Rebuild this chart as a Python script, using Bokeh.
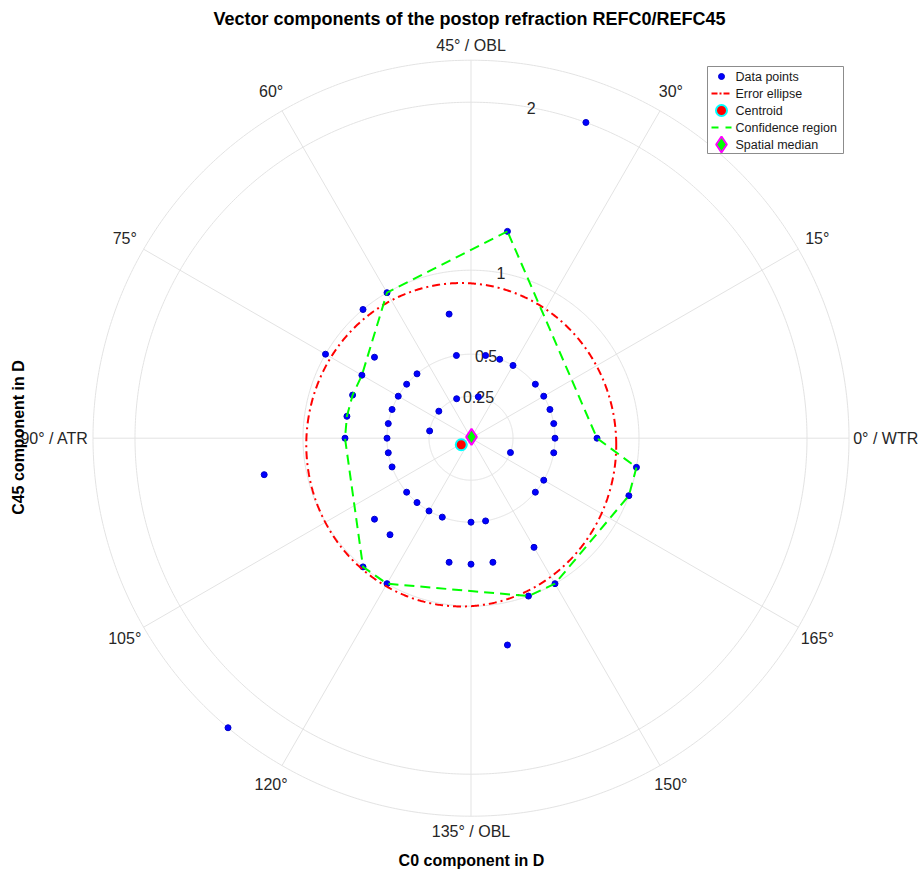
import numpy as np
from bokeh.plotting import figure
from bokeh.core.properties import value
from bokeh.embed import file_html
from bokeh.resources import INLINE

# ---------------- data (cylinder magnitude in D, axis in degrees) ----------------
pt_mag = [2.0, 1.25, 0.75, 1.0, 1.0, 1.0, 0.75, 0.75, 0.75, 0.75, 0.75,
          0.5, 0.5, 0.5, 0.5, 0.5, 0.5, 0.5, 0.5, 0.5, 0.5, 0.5, 0.5, 0.5, 0.5, 0.5,
          0.25, 0.25, 0.25, 0.25,
          0.75, 1.0, 1.0, 1.0, 1.0, 1.25, 1.0, 1.0, 1.25, 2.25,
          0.5, 0.5, 0.5, 0.5, 0.5, 0.5, 0.5, 0.5, 0.5, 0.5, 0.5,
          0.75, 0.75, 0.75, 0.75, 0.75, 0.75,
          0.25]
pt_axis = [35, 40, 50, 60, 65, 75, 70, 75, 80, 85, 90,
           0, 5, 10, 15, 20, 30, 35, 40, 50, 65, 70, 75, 80, 85, 90,
           55, 40, 70, 85,
           0, 175, 170, 150, 145, 140, 120, 115, 95, 115,
           95, 100, 110, 115, 120, 125, 135, 140, 160, 165, 175,
           110, 115, 130, 135, 140, 150,
           170]

# confidence region vertices (magnitude, axis)
conf_mag = [1.25, 1.0, 0.75, 0.75, 0.75, 0.75, 1.0, 1.0, 1.0, 1.0, 1.0, 1.0, 0.75, 1.25]
conf_axis = [40, 60, 75, 80, 85, 90, 115, 120, 145, 150, 170, 175, 0, 40]

# centroid, spatial median (C0, C45) and error ellipse semi-axes (D)
centroid_c0, centroid_c45 = [-0.058], [-0.039]
median_c0, median_c45 = [0.003], [0.008]
ellipse_a, ellipse_b = 0.9225, 0.9625

radial_ticks = [0.25, 0.5, 1, 2]
radial_labels = ["0.25", "0.5", "1", "2"]
r_max = 2.25
ang_ticks = [0, 15, 30, 45, 60, 75, 90, 105, 120, 135, 150, 165]
ang_labels = ["0° / WTR", "15°", "30°", "45° / OBL", "60°", "75°", "90° / ATR",
              "105°", "120°", "135° / OBL", "150°", "165°"]

legend_labels = ["Data points", "Error ellipse", "Centroid", "Confidence region", "Spatial median"]

title_text = "Vector components of the postop refraction REFC0/REFC45"
xlabel_text = "C0 component in D"
ylabel_text = "C45 component in D"

# ---------------- geometry ----------------
W, H = 921, 872
S = 168.0              # pixels per dioptre
CX, CY = 470.5, 437.7  # canvas pixel of origin


def px(cx, cy):
    return (cx - CX) / S, (CY - cy) / S


p = figure(width=W, height=H, output_backend="svg", toolbar_location=None,
           x_range=(-CX / S, (W - CX) / S), y_range=(-(H - CY) / S, CY / S),
           min_border=0, min_border_left=0, min_border_right=0,
           min_border_top=0, min_border_bottom=0)
p.axis.visible = False
p.grid.visible = False
p.outline_line_color = None
p.background_fill_color = "white"
p.border_fill_color = "white"

grid_col = "#e3e3e3"
txt_col = "#262626"
FONT = "Liberation Sans"

RED, GREEN, BLUE, CYAN, MAGENTA = "#ff0000", "#00ff00", "#0000ff", "#00ffff", "#ff00ff"
RED_DASH = "8 4 2 4"
GREEN_DASH = "10 6"

# circles
t = np.linspace(0, 2 * np.pi, 721)
for r in radial_ticks + [r_max]:
    p.line(r * np.cos(t), r * np.sin(t), line_color=grid_col, line_width=1)
# spokes
for a in range(0, 360, 30):
    ar = np.deg2rad(a)
    p.line([0, r_max * np.cos(ar)], [0, r_max * np.sin(ar)], line_color=grid_col, line_width=1)

# radial tick labels along ~80 deg
la = np.deg2rad(79.7)
p.text(x=[r * np.cos(la) for r in radial_ticks], y=[r * np.sin(la) for r in radial_ticks],
       text=radial_labels, text_align="center", text_baseline="middle",
       text_font=value(FONT), text_font_size="16px", text_color=txt_col)

# angular labels
for a, lab in zip(ang_ticks, ang_labels):
    ar = np.deg2rad(2 * a)
    if 2 * a == 0:
        x, y, al = 2.275, 0.0, "left"
    elif 2 * a == 180:
        x, y, al = -2.275, 0.0, "right"
    elif 2 * a in (90, 270):
        x, y, al = 0.0, 2.34 * np.sin(ar), "center"
    else:
        x, y, al = 2.38 * np.cos(ar), 2.38 * np.sin(ar), "center"
    p.text(x=[x], y=[y], text=[lab], text_align=al, text_baseline="middle",
           text_font=value(FONT), text_font_size="16px", text_color=txt_col)

# ---------------- marks ----------------
mag = np.array(pt_mag)
ax2 = np.deg2rad(2 * np.array(pt_axis))
c0 = mag * np.cos(ax2)
c45 = mag * np.sin(ax2)

cm = np.array(conf_mag)
ca = np.deg2rad(2 * np.array(conf_axis))

p.scatter(c0, c45, marker="circle", size=6, fill_color=BLUE, line_color="#0000cc", line_width=1)
p.line(centroid_c0[0] + ellipse_a * np.cos(t), centroid_c45[0] + ellipse_b * np.sin(t),
       line_color=RED, line_width=2, line_dash=RED_DASH)
p.line(cm * np.cos(ca), cm * np.sin(ca), line_color=GREEN, line_width=2, line_dash=GREEN_DASH)
p.scatter(centroid_c0, centroid_c45, marker="circle", size=11, fill_color=RED,
          line_color=CYAN, line_width=2)
p.scatter(median_c0, median_c45, marker="diamond", size=16, fill_color=GREEN,
          line_color=MAGENTA, line_width=2)

# ---------------- texts ----------------
tx, ty = px(469, 18)
p.text(x=[tx], y=[ty], text=[title_text], text_align="center", text_baseline="middle",
       text_font=value(FONT), text_font_size="18px", text_font_style="bold", text_color="black")
tx, ty = px(471, 860)
p.text(x=[tx], y=[ty], text=[xlabel_text], text_align="center", text_baseline="middle",
       text_font=value(FONT), text_font_size="16px", text_font_style="bold", text_color="black")
tx, ty = px(18, 437)
p.text(x=[tx], y=[ty], text=[ylabel_text], text_align="center", text_baseline="middle", angle=np.pi / 2,
       text_font=value(FONT), text_font_size="16px", text_font_style="bold", text_color="black")

# ---------------- legend (drawn by hand) ----------------
bx0, by0 = px(707, 66)
bx1, by1 = px(843, 153)
p.quad(left=[bx0], right=[bx1], top=[by0], bottom=[by1], fill_color="white",
       line_color="#8c8c8c", line_width=1)
row_y = [76, 93, 110, 127, 144]
gx, _ = px(721, 0)
lx0, _ = px(711, 0)
lx1, _ = px(731, 0)
ys = [px(0, yy)[1] for yy in row_y]
p.scatter([gx], [ys[0]], marker="circle", size=6, fill_color=BLUE, line_color="#0000cc", line_width=1)
p.line([lx0, lx1], [ys[1], ys[1]], line_color=RED, line_width=2, line_dash="6 2 2 2")
p.scatter([gx], [ys[2]], marker="circle", size=11, fill_color=RED, line_color=CYAN, line_width=2)
p.line([lx0, lx1], [ys[3], ys[3]], line_color=GREEN, line_width=2, line_dash="7 7")
p.scatter([gx], [ys[4]], marker="diamond", size=16, fill_color=GREEN, line_color=MAGENTA, line_width=2)
tx, _ = px(735, 0)
p.text(x=[tx] * 5, y=ys, text=legend_labels, text_align="left", text_baseline="middle",
       text_font=value(FONT), text_font_size="12.5px", text_color="#1a1a1a")

open("out.html", "w").write(file_html(p, INLINE))
